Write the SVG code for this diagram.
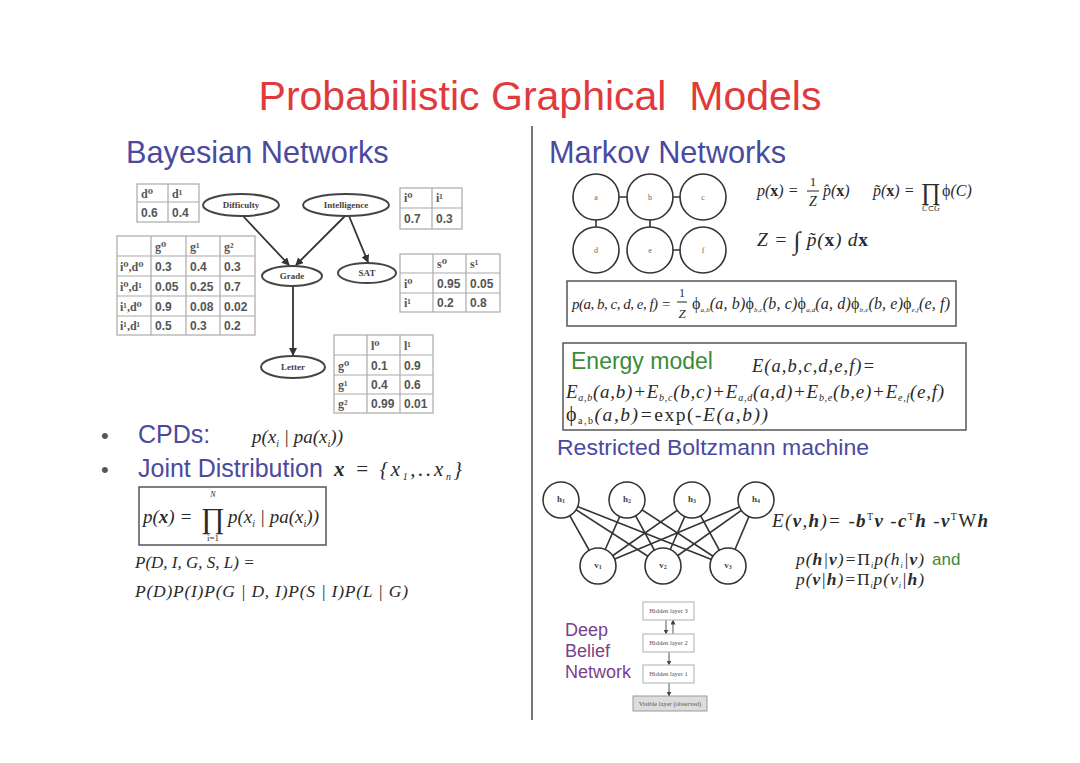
<svg xmlns="http://www.w3.org/2000/svg" width="1080" height="763" viewBox="0 0 1080 763">
<style>
.title{font-family:"Liberation Sans",Arial,sans-serif;font-size:41px;fill:#e03a3c}
.head{font-family:"Liberation Sans",Arial,sans-serif;font-size:30.7px;fill:#4a4a9e}
.bul{font-family:"Liberation Sans",Arial,sans-serif;font-size:25px;fill:#4a4a9e}
.dot{font-family:"Liberation Sans",Arial,sans-serif;font-size:22px;fill:#555}
.sub2{font-family:"Liberation Sans",Arial,sans-serif;font-size:22px;fill:#4a4a9e}
.green{font-family:"Liberation Sans",Arial,sans-serif;fill:#3d8a3d}
.purple{font-family:"Liberation Sans",Arial,sans-serif;font-size:18px;fill:#7a3f8c}
.m{font-family:"Liberation Serif","DejaVu Serif",serif;font-style:italic;fill:#2a2a2a}
.r{font-family:"Liberation Serif","DejaVu Serif",serif;fill:#2a2a2a}
.tb rect{fill:#fff;stroke:#aaa;stroke-width:1.2}
.tb line{stroke:#aaa;stroke-width:1.2}
.num{font-family:"Liberation Sans",Arial,sans-serif;font-weight:bold;font-size:12px;fill:#555}
.hd{font-family:"Liberation Serif","DejaVu Serif",serif;font-weight:bold;font-size:12px;fill:#555}
.ell{fill:#fff;stroke:#444;stroke-width:2}
.elt{font-family:"Liberation Serif","DejaVu Serif",serif;font-weight:bold;font-size:9px;fill:#444;text-anchor:middle}
.circ{fill:#fff;stroke:#333;stroke-width:1.6}
.clab{font-family:"Liberation Serif","DejaVu Serif",serif;font-size:8px;fill:#666;text-anchor:middle}
.rlab{font-family:"Liberation Serif","DejaVu Serif",serif;font-weight:bold;font-size:9px;fill:#444;text-anchor:middle}
.edge{stroke:#333;stroke-width:1.6;fill:none}
.arr{stroke:#333;stroke-width:1.8;fill:none;marker-end:url(#ah)}
.darr{stroke:#555;stroke-width:1;fill:none;marker-end:url(#sah)}
.box{fill:none;stroke:#555;stroke-width:1.5}
.lbox{fill:#fff;stroke:#bbb;stroke-width:1.2}
.ltxt{font-family:"Liberation Serif","DejaVu Serif",serif;font-size:6.5px;fill:#555;text-anchor:middle}
</style>
<defs>
<marker id="ah" markerWidth="8" markerHeight="8" refX="7" refY="4" orient="auto" markerUnits="userSpaceOnUse">
<path d="M0,0 L8,4 L0,8 Z" fill="#333"/>
</marker>
<marker id="sah" markerWidth="5" markerHeight="5" refX="4.5" refY="2.5" orient="auto" markerUnits="userSpaceOnUse">
<path d="M0,0 L5,2.5 L0,5 Z" fill="#444"/>
</marker>
</defs>
<rect width="1080" height="763" fill="#fff"/>

<text class="title" x="540" y="110" text-anchor="middle" xml:space="preserve">Probabilistic Graphical  Models</text>
<line x1="532" y1="126" x2="532" y2="720" stroke="#777" stroke-width="2"/>

<text class="head" x="126" y="163">Bayesian Networks</text>
<text class="head" x="549" y="163">Markov Networks</text>

<!-- connectors -->
<g id="connectors">
<line class="arr" x1="243" y1="216" x2="289" y2="265"/>
<line class="arr" x1="345" y1="216" x2="296" y2="265"/>
<line class="arr" x1="349" y1="216" x2="368" y2="262"/>
<line class="arr" x1="293" y1="286" x2="293" y2="355"/>
<line class="edge" x1="596" y1="197" x2="650" y2="197"/>
<line class="edge" x1="650" y1="197" x2="703" y2="197"/>
<line class="edge" x1="596" y1="197" x2="596" y2="250"/>
<line class="edge" x1="650" y1="197" x2="650" y2="250"/>
<line class="edge" x1="650" y1="250" x2="703" y2="250"/>
<g class="edge">
<line x1="561" y1="500" x2="598" y2="566"/><line x1="561" y1="500" x2="663" y2="566"/><line x1="561" y1="500" x2="728" y2="566"/>
<line x1="627" y1="500" x2="598" y2="566"/><line x1="627" y1="500" x2="663" y2="566"/><line x1="627" y1="500" x2="728" y2="566"/>
<line x1="692" y1="500" x2="598" y2="566"/><line x1="692" y1="500" x2="663" y2="566"/><line x1="692" y1="500" x2="728" y2="566"/>
<line x1="756" y1="500" x2="598" y2="566"/><line x1="756" y1="500" x2="663" y2="566"/><line x1="756" y1="500" x2="728" y2="566"/>
</g>
<line class="darr" x1="666" y1="620" x2="666" y2="634"/>
<line class="darr" x1="673" y1="634" x2="673" y2="620"/>
<line class="darr" x1="669" y1="652" x2="669" y2="665"/>
<line class="darr" x1="669" y1="683" x2="669" y2="696"/>
</g>

<!-- Bayesian nodes -->
<g id="difficulty"><ellipse class="ell" cx="241" cy="205" rx="38" ry="11"/><text class="elt" x="241" y="208">Difficulty</text></g>
<g id="intelligence"><ellipse class="ell" cx="346" cy="205" rx="43" ry="11"/><text class="elt" x="346" y="208">Intelligence</text></g>
<g id="grade"><ellipse class="ell" cx="292" cy="276" rx="30" ry="10"/><text class="elt" x="292" y="279">Grade</text></g>
<g id="sat"><ellipse class="ell" cx="367" cy="273" rx="29" ry="10"/><text class="elt" x="367" y="276">SAT</text></g>
<g id="letter"><ellipse class="ell" cx="293" cy="367" rx="32" ry="11"/><text class="elt" x="293" y="370">Letter</text></g>

<!-- CPD tables -->
<g id="table-d" class="tb">
<rect x="137" y="184" width="62" height="38"/><line x1="168" y1="184" x2="168" y2="222"/><line x1="137" y1="202" x2="199" y2="202"/>
<text class="hd" x="141" y="198">d⁰</text><text class="hd" x="172" y="198">d¹</text>
<text class="num" x="141" y="217">0.6</text><text class="num" x="172" y="217">0.4</text>
</g>
<g id="table-i" class="tb">
<rect x="400" y="188" width="62" height="41"/><line x1="432" y1="188" x2="432" y2="229"/><line x1="400" y1="208" x2="462" y2="208"/>
<text class="hd" x="404" y="202">i⁰</text><text class="hd" x="436" y="202">i¹</text>
<text class="num" x="404" y="223">0.7</text><text class="num" x="436" y="223">0.3</text>
</g>
<g id="table-g" class="tb">
<rect x="117" y="236" width="138" height="99"/>
<line x1="151" y1="236" x2="151" y2="335"/><line x1="186" y1="236" x2="186" y2="335"/><line x1="220" y1="236" x2="220" y2="335"/>
<line x1="117" y1="256" x2="255" y2="256"/><line x1="117" y1="276" x2="255" y2="276"/><line x1="117" y1="296" x2="255" y2="296"/><line x1="117" y1="316" x2="255" y2="316"/>
<text class="hd" x="155" y="251">g⁰</text><text class="hd" x="190" y="251">g¹</text><text class="hd" x="224" y="251">g²</text>
<text class="hd" x="120" y="271">i⁰,d⁰</text><text class="num" x="155" y="271">0.3</text><text class="num" x="190" y="271">0.4</text><text class="num" x="224" y="271">0.3</text>
<text class="hd" x="120" y="291">i⁰,d¹</text><text class="num" x="155" y="291">0.05</text><text class="num" x="190" y="291">0.25</text><text class="num" x="224" y="291">0.7</text>
<text class="hd" x="120" y="311">i¹,d⁰</text><text class="num" x="155" y="311">0.9</text><text class="num" x="190" y="311">0.08</text><text class="num" x="224" y="311">0.02</text>
<text class="hd" x="120" y="330">i¹,d¹</text><text class="num" x="155" y="330">0.5</text><text class="num" x="190" y="330">0.3</text><text class="num" x="224" y="330">0.2</text>
</g>
<g id="table-s" class="tb">
<rect x="400" y="254" width="100" height="58"/><line x1="433" y1="254" x2="433" y2="312"/><line x1="466" y1="254" x2="466" y2="312"/>
<line x1="400" y1="273" x2="500" y2="273"/><line x1="400" y1="293" x2="500" y2="293"/>
<text class="hd" x="437" y="268">s⁰</text><text class="hd" x="470" y="268">s¹</text>
<text class="hd" x="404" y="288">i⁰</text><text class="num" x="437" y="288">0.95</text><text class="num" x="470" y="288">0.05</text>
<text class="hd" x="404" y="307">i¹</text><text class="num" x="437" y="307">0.2</text><text class="num" x="470" y="307">0.8</text>
</g>
<g id="table-l" class="tb">
<rect x="334" y="335" width="99" height="78"/><line x1="367" y1="335" x2="367" y2="413"/><line x1="400" y1="335" x2="400" y2="413"/>
<line x1="334" y1="355" x2="433" y2="355"/><line x1="334" y1="375" x2="433" y2="375"/><line x1="334" y1="394" x2="433" y2="394"/>
<text class="hd" x="371" y="350">l⁰</text><text class="hd" x="404" y="350">l¹</text>
<text class="hd" x="338" y="370">g⁰</text><text class="num" x="371" y="370">0.1</text><text class="num" x="404" y="370">0.9</text>
<text class="hd" x="338" y="389">g¹</text><text class="num" x="371" y="389">0.4</text><text class="num" x="404" y="389">0.6</text>
<text class="hd" x="338" y="408">g²</text><text class="num" x="371" y="408">0.99</text><text class="num" x="404" y="408">0.01</text>
</g>

<!-- bullets -->
<g id="bullets">
<text class="dot" x="101" y="443">•</text>
<text class="bul" x="138" y="443">CPDs:</text>
<text class="m" x="252" y="443" font-size="19">p(x<tspan font-size="10" dy="4">i</tspan><tspan dy="-4"> | pa(x</tspan><tspan font-size="10" dy="4">i</tspan><tspan dy="-4">))</tspan></text>
<text class="dot" x="101" y="477">•</text>
<text class="bul" x="138" y="477">Joint Distribution</text>
<text class="m" x="334" y="476" font-size="21" textLength="128" lengthAdjust="spacing"><tspan font-weight="bold">x</tspan> = {x<tspan font-size="10" dy="4">1</tspan><tspan dy="-4">,..x</tspan><tspan font-size="10" dy="4">n</tspan><tspan dy="-4">}</tspan></text>
</g>
<g id="joint-formula">
<rect class="box" x="139" y="487" width="187" height="58"/>
<text class="m" x="143" y="523" font-size="19">p(<tspan font-weight="bold">x</tspan>) =</text>
<text class="r" x="213" y="528" font-size="29" text-anchor="middle">∏</text>
<text class="m" x="213" y="497" font-size="8" text-anchor="middle">N</text>
<text class="r" x="213" y="541" font-size="9" text-anchor="middle">i=1</text>
<text class="m" x="228" y="523" font-size="19">p(x<tspan font-size="10" dy="4">i</tspan><tspan dy="-4"> | pa(x</tspan><tspan font-size="10" dy="4">i</tspan><tspan dy="-4">))</tspan></text>
<text class="m" x="135" y="568" font-size="17">P(D, I, G, S, L) =</text>
<text class="m" x="135" y="597" font-size="17.5" textLength="273" lengthAdjust="spacing">P(D)P(I)P(G | D, I)P(S | I)P(L | G)</text>
</g>

<!-- Markov network nodes -->
<g id="mn-a"><circle class="circ" cx="596" cy="197" r="23"/><text class="clab" x="596" y="200">a</text></g>
<g id="mn-b"><circle class="circ" cx="650" cy="197" r="23"/><text class="clab" x="650" y="200">b</text></g>
<g id="mn-c"><circle class="circ" cx="703" cy="197" r="23"/><text class="clab" x="703" y="200">c</text></g>
<g id="mn-d"><circle class="circ" cx="596" cy="250" r="23"/><text class="clab" x="596" y="253">d</text></g>
<g id="mn-e"><circle class="circ" cx="650" cy="250" r="23"/><text class="clab" x="650" y="253">e</text></g>
<g id="mn-f"><circle class="circ" cx="703" cy="250" r="23"/><text class="clab" x="703" y="253">f</text></g>

<g id="markov-formulas">
<text class="m" x="757" y="196" font-size="16">p(<tspan font-style="normal" font-weight="bold">x</tspan>) =</text>
<text class="r" x="813" y="186" font-size="13" text-anchor="middle">1</text>
<line x1="807" y1="191" x2="819" y2="191" stroke="#222" stroke-width="1"/>
<text class="m" x="813" y="206" font-size="14" text-anchor="middle">Z</text>
<text class="m" x="823" y="196" font-size="16">p̂(<tspan font-style="normal" font-weight="bold">x</tspan>)</text>
<text class="m" x="873" y="196" font-size="16">p̃(<tspan font-style="normal" font-weight="bold">x</tspan>) =</text>
<text class="r" x="931" y="200" font-size="24" text-anchor="middle">∏</text>
<text class="m" x="931" y="211" font-size="8" text-anchor="middle">C⊂G</text>
<text class="m" x="942" y="196" font-size="16"><tspan font-style="normal">ϕ</tspan>(C)</text>
<text class="m" x="757" y="246" font-size="19.5" textLength="111" lengthAdjust="spacing">Z = <tspan font-style="normal" font-size="25" dy="3">∫</tspan><tspan dy="-3"> p̃(</tspan><tspan font-style="normal" font-weight="bold">x</tspan>) d<tspan font-style="normal" font-weight="bold">x</tspan></text>
</g>

<g id="markov-joint">
<rect class="box" x="567" y="281" width="389" height="45"/>
<text class="m" x="572" y="309" font-size="15" textLength="99" lengthAdjust="spacing">p(a, b, c, d, e, f) =</text>
<text class="r" x="682" y="297" font-size="12" text-anchor="middle">1</text>
<line x1="677" y1="302" x2="687" y2="302" stroke="#222" stroke-width="1"/>
<text class="m" x="682" y="318" font-size="13" text-anchor="middle">Z</text>
<text class="m" x="692" y="309" font-size="16" textLength="258" lengthAdjust="spacing"><tspan font-style="normal">ϕ</tspan><tspan font-size="7" dy="3">a,b</tspan><tspan dy="-3">(a, b)</tspan><tspan font-style="normal">ϕ</tspan><tspan font-size="7" dy="3">b,c</tspan><tspan dy="-3">(b, c)</tspan><tspan font-style="normal">ϕ</tspan><tspan font-size="7" dy="3">a,d</tspan><tspan dy="-3">(a, d)</tspan><tspan font-style="normal">ϕ</tspan><tspan font-size="7" dy="3">b,e</tspan><tspan dy="-3">(b, e)</tspan><tspan font-style="normal">ϕ</tspan><tspan font-size="7" dy="3">e,f</tspan><tspan dy="-3">(e, f)</tspan></text>
</g>

<g id="energy-model">
<rect class="box" x="563" y="343" width="403" height="87"/>
<text class="green" x="571" y="369" font-size="23">Energy model</text>
<text class="m" x="752" y="372" font-size="18.5" textLength="123" lengthAdjust="spacing">E(a,b,c,d,e,f)=</text>
<text class="m" x="566" y="398" font-size="19" textLength="378" lengthAdjust="spacing">E<tspan font-size="10" dy="3">a,b</tspan><tspan dy="-3">(a,b)+E</tspan><tspan font-size="10" dy="3">b,c</tspan><tspan dy="-3">(b,c)+E</tspan><tspan font-size="10" dy="3">a,d</tspan><tspan dy="-3">(a,d)+E</tspan><tspan font-size="10" dy="3">b,e</tspan><tspan dy="-3">(b,e)+E</tspan><tspan font-size="10" dy="3">e,f</tspan><tspan dy="-3">(e,f)</tspan></text>
<text class="m" x="566" y="421" font-size="19.5" textLength="202" lengthAdjust="spacing"><tspan font-style="normal" font-size="20">ϕ</tspan><tspan font-style="normal" font-size="10" dy="3">a,b</tspan><tspan dy="-3">(a,b)=</tspan><tspan font-style="normal">exp(-</tspan>E(a,b))</text>
</g>

<text class="sub2" x="557" y="455" textLength="312" lengthAdjust="spacingAndGlyphs">Restricted Boltzmann machine</text>

<!-- RBM nodes -->
<g id="rbm-h1"><circle class="circ" cx="561" cy="500" r="18"/><text class="rlab" x="561" y="502">h<tspan font-size="6" dy="1">1</tspan></text></g>
<g id="rbm-h2"><circle class="circ" cx="627" cy="500" r="18"/><text class="rlab" x="627" y="502">h<tspan font-size="6" dy="1">2</tspan></text></g>
<g id="rbm-h3"><circle class="circ" cx="692" cy="500" r="18"/><text class="rlab" x="692" y="502">h<tspan font-size="6" dy="1">3</tspan></text></g>
<g id="rbm-h4"><circle class="circ" cx="756" cy="500" r="18"/><text class="rlab" x="756" y="502">h<tspan font-size="6" dy="1">4</tspan></text></g>
<g id="rbm-v1"><circle class="circ" cx="598" cy="566" r="18"/><text class="rlab" x="598" y="568">v<tspan font-size="6" dy="1">1</tspan></text></g>
<g id="rbm-v2"><circle class="circ" cx="663" cy="566" r="18"/><text class="rlab" x="663" y="568">v<tspan font-size="6" dy="1">2</tspan></text></g>
<g id="rbm-v3"><circle class="circ" cx="728" cy="566" r="18"/><text class="rlab" x="728" y="568">v<tspan font-size="6" dy="1">3</tspan></text></g>

<g id="rbm-formulas">
<text class="m" x="772" y="527" font-size="19" textLength="216" lengthAdjust="spacing">E(<tspan font-weight="bold">v</tspan>,<tspan font-weight="bold">h</tspan>)= -<tspan font-weight="bold">b</tspan><tspan font-style="normal" font-size="10" dy="-7">T</tspan><tspan font-weight="bold" dy="7">v</tspan> -<tspan font-weight="bold">c</tspan><tspan font-style="normal" font-size="10" dy="-7">T</tspan><tspan font-weight="bold" dy="7">h</tspan> -<tspan font-weight="bold">v</tspan><tspan font-style="normal" font-size="10" dy="-7">T</tspan><tspan font-style="normal" dy="7">W</tspan><tspan font-weight="bold">h</tspan></text>
<text class="m" x="796" y="565" font-size="17.5" textLength="128" lengthAdjust="spacing">p(<tspan font-weight="bold">h</tspan>|<tspan font-weight="bold">v</tspan>)=<tspan font-style="normal">Π</tspan><tspan font-size="8" dy="3">i</tspan><tspan dy="-3">p(h</tspan><tspan font-size="8" dy="3">i</tspan><tspan dy="-3">|</tspan><tspan font-weight="bold">v</tspan>)</text>
<text class="green" x="932" y="565" font-size="17">and</text>
<text class="m" x="796" y="585" font-size="17.5" textLength="128" lengthAdjust="spacing">p(<tspan font-weight="bold">v</tspan>|<tspan font-weight="bold">h</tspan>)=<tspan font-style="normal">Π</tspan><tspan font-size="8" dy="3">i</tspan><tspan dy="-3">p(v</tspan><tspan font-size="8" dy="3">i</tspan><tspan dy="-3">|</tspan><tspan font-weight="bold">h</tspan>)</text>
</g>

<!-- DBN -->
<g id="dbn-label">
<text class="purple" x="565" y="636">Deep</text>
<text class="purple" x="565" y="657">Belief</text>
<text class="purple" x="565" y="678">Network</text>
</g>
<g id="dbn-h3"><rect class="lbox" x="643" y="602" width="51" height="18"/><text class="ltxt" x="668.5" y="613">Hidden layer 3</text></g>
<g id="dbn-h2"><rect class="lbox" x="643" y="634" width="51" height="18"/><text class="ltxt" x="668.5" y="645">Hidden layer 2</text></g>
<g id="dbn-h1"><rect class="lbox" x="643" y="665" width="51" height="18"/><text class="ltxt" x="668.5" y="676">Hidden layer 1</text></g>
<g id="dbn-v"><rect x="633" y="696" width="74" height="15" fill="#ddd" stroke="#999" stroke-width="1"/><text class="ltxt" x="670" y="706">Visible layer (observed)</text></g>
</svg>
